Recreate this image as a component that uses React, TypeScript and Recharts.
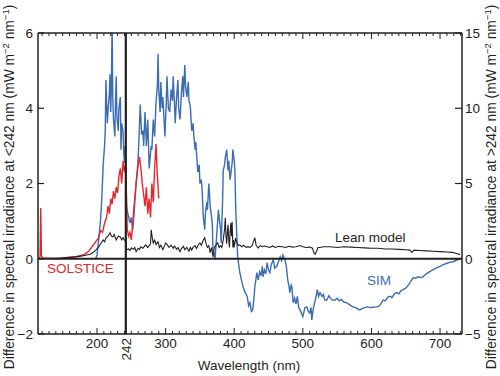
import React from 'react';
import { LineChart, Line, XAxis, YAxis, ReferenceLine, Customized } from 'recharts';

const FONT = '"Liberation Sans", Arial, Helvetica, sans-serif';
const INK = '#231f20';
const RED = '#e3262e';
const BLUE = '#3b6cb4';

// wavelength axis (nm)
const wlDomain = [114, 732];
const wlMajor = [200, 300, 400, 500, 600, 700];
const wlMinor = [
  120, 130, 140, 150, 160, 170, 180, 190, 200, 210, 220, 230, 240, 242, 250, 260, 270, 280, 290,
  300, 310, 320, 330, 340, 350, 360, 370, 380, 390, 400, 410, 420, 430, 440, 450, 460, 470, 480,
  490, 500, 510, 520, 530, 540, 550, 560, 570, 580, 590, 600, 610, 620, 630, 640, 650, 660, 670,
  680, 690, 700, 710, 720, 730,
];

// left axis (<242 nm) and right axis (>242 nm), same zero, factor 2.5
const leftTicks = [-2, 0, 2, 4, 6];
const rightTicks = [-5, 0, 5, 10, 15];

// SOLSTICE, left-axis units
const solsticeWl = [
  115, 117, 118, 119, 121, 130, 140, 150, 160, 170, 180, 188, 194, 198, 202, 205, 208, 211, 214,
  216, 218, 220, 222, 224, 226, 228, 230, 232, 234, 236, 238, 240, 242, 244, 246, 248, 250, 252,
  254, 256, 258, 260, 262, 264, 266, 268, 270, 272, 274, 276, 278, 280, 282, 284, 286, 288, 290,
];
const solsticeIrr = [
  0, 0.05, 1.35, 0.08, 0.02, 0.01, 0, 0.02, 0.04, 0.06, 0.1, 0.2, 0.35, 0.45, 0.55, 0.75, 0.7, 0.95,
  1.1, 1.4, 1.2, 1.6, 1.45, 1.8, 1.6, 1.9, 1.75, 2.2, 2.4, 2.0, 2.6, 2.3, 2.5, 0.8, 0.6, 0.7, 0.5,
  0.9, 1.4, 1.8, 2.2, 2.5, 2.7, 2.4, 2.0, 1.7, 1.4, 1.9, 1.2, 1.6, 1.1, 2.0, 1.5, 2.4, 3.05, 2.2, 1.6,
];

// SIM, left-axis units
const simWl = [
  198, 200, 203, 205, 207, 209, 211, 212, 213, 215, 216, 218, 219, 220, 221, 222, 223, 224, 226,
  227, 228, 229, 231, 232, 234, 235, 236, 238, 239, 240, 241, 242, 243, 245, 248, 250, 252, 254,
  255, 257, 259, 260, 262, 263, 265, 267, 268, 270, 272, 274, 276, 279, 280, 282, 284, 286, 288,
  289, 290, 292, 293, 295, 296, 298, 299, 301, 302, 304, 306, 308, 310, 311, 313, 314, 316, 318,
  319, 321, 323, 325, 326, 328, 329, 331, 333, 334, 336, 338, 340, 341, 343, 344, 346, 347, 349,
  350, 352, 353, 355, 357, 358, 360, 361, 363, 365, 367, 368, 369, 371, 372, 374, 375, 377, 378,
  380, 381, 383, 384, 386, 387, 389, 391, 392, 394, 396, 397, 398, 400, 401, 402, 403, 405, 408,
  411, 413, 416, 419, 421, 423, 425, 427, 429, 430, 432, 433, 435, 437, 439, 441, 442, 444, 446,
  448, 450, 452, 454, 457, 459, 462, 464, 467, 469, 471, 474, 476, 478, 480, 481, 483, 484, 486,
  488, 490, 492, 494, 496, 498, 500, 503, 506, 508, 510, 512, 513, 515, 518, 520, 521, 523, 525,
  528, 530, 532, 535, 538, 540, 543, 547, 550, 553, 556, 560, 564, 568, 573, 577, 580, 583, 587,
  590, 594, 598, 602, 608, 612, 617, 620, 624, 627, 630, 634, 637, 640, 643, 646, 650, 653, 656,
  658, 661, 664, 668, 672, 675, 680, 685, 690, 695, 700, 704, 710, 715, 719, 724, 729,
];
const simIrr = [
  0.0, 0.1, 0.6, 1.0, 1.6, 2.5, 3.0, 3.4, 4.75, 3.6, 3.9, 4.4, 4.9, 3.9, 4.6, 6.3, 4.3, 3.7, 3.25,
  4.2, 4.85, 3.8, 3.4, 4.0, 4.3, 2.9, 3.6, 3.4, 2.8, 2.55, 3.0, 2.2, 1.4, 1.2, 0.95, 1.1, 0.77, 1.2,
  1.5, 2.0, 2.4, 2.7, 3.6, 4.1, 3.3, 3.4, 3.0, 3.9, 3.0, 3.7, 2.4, 3.0, 2.9, 3.7, 3.25, 4.15, 4.6,
  5.45, 4.5, 3.9, 4.7, 4.0, 4.3, 3.6, 3.25, 4.2, 4.85, 4.0, 3.9, 4.5, 4.2, 4.85, 4.1, 3.6, 4.3, 4.75,
  4.0, 3.7, 4.4, 4.85, 4.3, 5.15, 4.6, 4.3, 4.7, 4.2, 4.05, 3.4, 3.6, 3.3, 2.9, 3.1, 2.55, 2.3, 2.5,
  2.0, 2.1, 1.9, 1.1, 0.77, 1.2, 1.5, 1.3, 2.0, 1.4, 1.1, 0.95, 0.25, 0.1, -0.02, 0.5, 0.77, 1.3, 1.1,
  0.8, 0.42, 1.5, 2.35, 2.5, 2.7, 2.9, 2.35, 2.6, 2.1, 2.4, 2.55, 2.9, 2.6, 2.35, 1.5, 0.95, 0.05, -0.35,
  -0.6, -0.75, -0.9, -1.0, -1.25, -1.17, -1.4, -1.36, -1.0, -0.75, -0.5, -0.37, -0.56, -0.35, -0.45, -0.2, -0.48, -0.3, -0.4,
  -0.1, -0.3, -0.37, -0.15, -0.03, -0.25, -0.2, -0.1, 0.05, -0.05, 0.1, -0.03, -0.2, -0.56, -0.75, -0.9, -0.7, -0.75, -1.17,
  -1.05, -1.2, -1.0, -1.3, -1.36, -1.45, -1.54, -1.3, -1.28, -1.4, -1.44, -1.3, -1.63, -1.35, -1.1, -0.95, -0.82, -1.0, -0.9,
  -1.0, -0.95, -1.1, -1.1, -0.98, -1.04, -1.1, -1.1, -1.05, -1.12, -1.08, -1.15, -1.17, -1.22, -1.28, -1.3, -1.33, -1.36, -1.32,
  -1.3, -1.28, -1.3, -1.29, -1.28, -1.25, -1.1, -1.12, -1.02, -1.0, -1.03, -0.92, -0.9, -0.93, -0.85, -0.82, -0.78, -0.72, -0.64,
  -0.58, -0.5, -0.52, -0.48, -0.5, -0.48, -0.4, -0.34, -0.29, -0.24, -0.2, -0.16, -0.12, -0.09, -0.08, -0.04, 0.0,
];

// Lean model, left-axis units
const leanWl = [
  115, 130, 150, 170, 180, 190, 195, 199, 202, 206, 209, 211, 213, 216, 219, 221, 223, 225, 228,
  231, 234, 236, 238, 240, 242, 243, 246, 248, 250, 253, 255, 257, 260, 262, 264, 267, 269, 271,
  274, 276, 278, 279, 281, 282, 284, 286, 289, 291, 293, 296, 298, 300, 302, 305, 308, 311, 313,
  316, 318, 321, 323, 326, 328, 331, 334, 336, 338, 340, 343, 345, 348, 350, 352, 355, 357, 359,
  361, 363, 365, 367, 369, 371, 374, 376, 378, 380, 382, 384, 386, 387, 388, 389, 390, 391, 392,
  393, 394, 395, 396, 397, 398, 399, 400, 402, 404, 406, 408, 411, 414, 417, 420, 423, 426, 428,
  430, 432, 435, 438, 441, 444, 448, 452, 456, 460, 465, 470, 475, 480, 485, 490, 496, 500, 505,
  510, 514, 516, 518, 520, 522, 525, 530, 540, 550, 560, 570, 580, 590, 600, 610, 620, 630, 640,
  650, 656, 659, 662, 670, 680, 690, 700, 710, 718, 724, 729,
];
const leanIrr = [
  0.0, 0.01, 0.02, 0.05, 0.08, 0.12, 0.18, 0.24, 0.3, 0.42, 0.5, 0.45, 0.55, 0.6, 0.69, 0.6, 0.58, 0.65, 0.5,
  0.6, 0.58, 0.5, 0.56, 0.5, 0.45, 0.24, 0.26, 0.22, 0.29, 0.25, 0.3, 0.19, 0.28, 0.25, 0.32, 0.28, 0.33, 0.37,
  0.3, 0.35, 0.4, 0.77, 0.5, 0.42, 0.5, 0.38, 0.45, 0.3, 0.36, 0.24, 0.33, 0.42, 0.38, 0.3, 0.36, 0.28, 0.34,
  0.25, 0.3, 0.19, 0.27, 0.33, 0.24, 0.3, 0.2, 0.3, 0.23, 0.3, 0.35, 0.27, 0.38, 0.42, 0.36, 0.5, 0.56, 0.4,
  0.3, 0.35, 0.16, 0.3, 0.05, 0.3, 0.38, 0.42, 0.3, 0.35, 0.3, 0.5, 0.8, 1.09, 0.6, 0.4, 0.7, 0.9, 0.5,
  0.3, 0.7, 0.95, 0.6, 0.98, 0.3, 0.5, 0.3, 0.55, 0.42, 0.35, 0.37, 0.32, 0.36, 0.3, 0.32, 0.3, 0.35, 0.45,
  0.56, 0.35, 0.29, 0.35, 0.32, 0.34, 0.32, 0.3, 0.34, 0.3, 0.33, 0.32, 0.3, 0.33, 0.31, 0.32, 0.35, 0.32, 0.3,
  0.31, 0.28, 0.16, 0.12, 0.2, 0.3, 0.3, 0.32, 0.32, 0.3, 0.32, 0.31, 0.3, 0.29, 0.28, 0.28, 0.26, 0.26, 0.25,
  0.24, 0.23, 0.17, 0.23, 0.22, 0.21, 0.2, 0.19, 0.18, 0.17, 0.14, 0.11,
];

const toRows = (wl: number[], irr: number[]) => wl.map((w, i) => ({ wl: w, irr: irr[i] }));
const solsticeData = toRows(solsticeWl, solsticeIrr);
const simData = toRows(simWl, simIrr);
const leanData = toRows(leanWl, leanIrr);

const fmt = (v: number) => (v < 0 ? `\u2212${Math.abs(v)}` : `${v}`);

const BottomTick = (props: any) => {
  const { x, y, payload } = props;
  const v = payload.value;
  const major = v % 100 === 0;
  return (
    <g>
      {v !== 242 && <line x1={x} x2={x} y1={y} y2={y - (major ? 6 : 3)} stroke={INK} strokeWidth={1} />}
      {major && (
        <text x={x} y={y + 14} textAnchor="middle" fontSize={13.5} fontFamily={FONT} fill={INK}>
          {v}
        </text>
      )}
      {v === 242 && (
        <text
          x={x + 5}
          y={y + 4}
          transform={`rotate(-90 ${x + 5} ${y + 4})`}
          textAnchor="end"
          fontSize={13.5}
          fontFamily={FONT}
          fill={INK}
        >
          242
        </text>
      )}
    </g>
  );
};

const TopTick = (props: any) => {
  const { x, y, payload } = props;
  const v = payload.value;
  if (v === 242) return <g />;
  const major = v % 100 === 0;
  return <line x1={x} x2={x} y1={y} y2={y + (major ? 6 : 3)} stroke={INK} strokeWidth={1} />;
};

const LeftTick = (props: any) => {
  const { x, y, payload } = props;
  return (
    <g>
      <line x1={x} x2={x + 6} y1={y} y2={y} stroke={INK} strokeWidth={1.2} />
      <text x={x - 5} y={y + 4.8} textAnchor="end" fontSize={13.5} fontFamily={FONT} fill={INK}>
        {fmt(payload.value)}
      </text>
    </g>
  );
};

const RightTick = (props: any) => {
  const { x, y, payload } = props;
  return (
    <g>
      <line x1={x} x2={x - 7} y1={y} y2={y} stroke={INK} strokeWidth={1.2} />
      <text x={x + 3} y={y + 4.8} textAnchor="start" fontSize={13.5} fontFamily={FONT} fill={INK}>
        {fmt(payload.value)}
      </text>
    </g>
  );
};

const AxisTitle = ({ x, y, sign }: { x: number; y: number; sign: string }) => (
  <text
    x={x}
    y={y}
    transform={`rotate(-90 ${x} ${y})`}
    textAnchor="middle"
    fontSize={13.8}
    fontFamily={FONT}
    fill={INK}
  >
    {`Difference in spectral irradiance at ${sign}242 nm (mW m`}
    <tspan fontSize={9.5} dy={-5}>{'\u22122'}</tspan>
    <tspan dy={5}>{' nm'}</tspan>
    <tspan fontSize={9.5} dy={-5}>{'\u22121'}</tspan>
    <tspan dy={5}>)</tspan>
  </text>
);

const Annotations = () => (
  <g fontFamily={FONT} fontSize={13.5}>
    <text x={47} y={273} fill={RED}>SOLSTICE</text>
    <text x={335} y={242} fill={INK}>Lean model</text>
    <text x={367} y={285} fill={BLUE}>SIM</text>
    <text x={249} y={370} textAnchor="middle" fill={INK}>Wavelength (nm)</text>
    <AxisTitle x={14} y={187} sign="<" />
    <AxisTitle x={496} y={187} sign=">" />
  </g>
);

export default function App() {
  return (
    <div style={{ position: 'absolute', left: 0, top: 0, background: '#fff' }}>
      <LineChart width={500} height={376} margin={{ top: 32, right: 0, bottom: 0, left: 0 }}>
        <XAxis
          xAxisId="bottom"
          dataKey="wl"
          type="number"
          domain={wlDomain}
          allowDataOverflow
          ticks={wlMinor}
          interval={0}
          height={42}
          tickSize={0}
          tickMargin={0}
          tickLine={false}
          tick={<BottomTick />}
          axisLine={{ stroke: INK, strokeWidth: 1.5 }}
        />
        <XAxis
          xAxisId="top"
          orientation="top"
          dataKey="wl"
          type="number"
          domain={wlDomain}
          allowDataOverflow
          ticks={wlMinor}
          interval={0}
          height={1}
          tickSize={0}
          tickMargin={0}
          tickLine={false}
          tick={<TopTick />}
          axisLine={{ stroke: INK, strokeWidth: 1.5 }}
        />
        <YAxis
          yAxisId="left"
          type="number"
          domain={[-2, 6]}
          allowDataOverflow
          ticks={leftTicks}
          interval={0}
          width={38}
          tickSize={0}
          tickMargin={0}
          tickLine={false}
          tick={<LeftTick />}
          axisLine={{ stroke: INK, strokeWidth: 1.5 }}
        />
        <YAxis
          yAxisId="right"
          orientation="right"
          type="number"
          domain={[-5, 15]}
          allowDataOverflow
          ticks={rightTicks}
          interval={0}
          width={38}
          tickSize={0}
          tickMargin={0}
          tickLine={false}
          tick={<RightTick />}
          axisLine={{ stroke: INK, strokeWidth: 1.5 }}
        />
        <Line
          xAxisId="bottom"
          yAxisId="left"
          data={simData}
          dataKey="irr"
          stroke={BLUE}
          strokeWidth={1.4}
          dot={false}
          isAnimationActive={false}
        />
        <Line
          xAxisId="bottom"
          yAxisId="left"
          data={solsticeData}
          dataKey="irr"
          stroke={RED}
          strokeWidth={1.4}
          dot={false}
          isAnimationActive={false}
        />
        <Line
          xAxisId="bottom"
          yAxisId="left"
          data={leanData}
          dataKey="irr"
          stroke={INK}
          strokeWidth={1.1}
          dot={false}
          isAnimationActive={false}
        />
        <ReferenceLine xAxisId="bottom" yAxisId="left" y={0} stroke={INK} strokeWidth={1.8} />
        <ReferenceLine xAxisId="bottom" yAxisId="left" x={242} stroke={INK} strokeWidth={2.2} />
        <Customized component={Annotations} />
      </LineChart>
    </div>
  );
}
